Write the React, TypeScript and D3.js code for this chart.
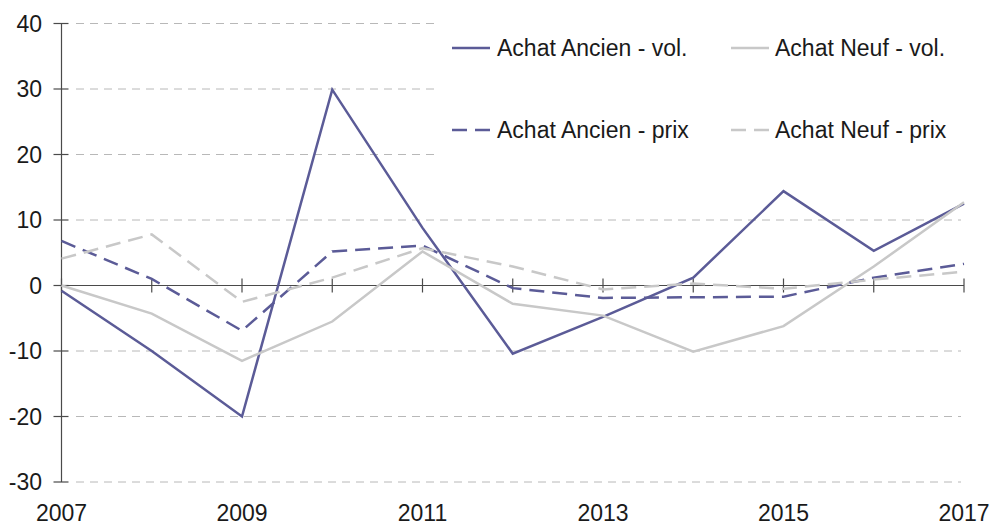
import { useEffect, useRef } from 'react';
import * as d3 from 'd3';

// values
const years = [2007, 2008, 2009, 2010, 2011, 2012, 2013, 2014, 2015, 2016, 2017];
const yearLabels = [2007, 2009, 2011, 2013, 2015, 2017];
const yTicks = [-30, -20, -10, 0, 10, 20, 30, 40];

const ancienVol = [-0.8, -10.0, -20.0, 29.9, 8.8, -10.4, -4.8, 1.2, 14.4, 5.3, 12.5];
const neufVol = [0, -4.3, -11.5, -5.5, 5.2, -2.8, -4.6, -10.1, -6.2, 2.9, 12.7];
const ancienPrix = [6.8, 1.0, -6.9, 5.2, 6.1, -0.4, -1.9, -1.8, -1.7, 1.2, 3.3];
const neufPrix = [4.1, 7.8, -2.5, 1.2, 5.7, 2.9, -0.6, 0.3, -0.5, 0.9, 2.1];

const seriesNames = ['Achat Ancien - vol.', 'Achat Neuf - vol.', 'Achat Ancien - prix', 'Achat Neuf - prix'];

const PURPLE = '#5b5b97';
const GREY = '#c8c8c8';
const FONT = '"Liberation Sans", Arial, sans-serif';

export default function App() {
  const svgRef = useRef<SVGSVGElement>(null);

  useEffect(() => {
    if (!svgRef.current) return;
    const svg = d3.select(svgRef.current);
    svg.selectAll('*').remove();

    const width = 991;
    const height = 527;
    svg.attr('width', width).attr('height', height);

    const x = d3.scaleLinear().domain([2007, 2017]).range([61.5, 964]);
    const y = d3.scaleLinear().domain([-30, 40]).range([482, 23.5]);

    // dashed horizontal grid
    svg.append('g')
      .selectAll('line')
      .data(yTicks.filter(t => t !== 0))
      .join('line')
      .attr('x1', 76)
      .attr('x2', 961)
      .attr('y1', d => y(d))
      .attr('y2', d => y(d))
      .attr('stroke', '#b8b8b8')
      .attr('stroke-width', 1)
      .attr('stroke-dasharray', '8,6');

    // y axis
    const axisColor = '#4a4a4a';
    svg.append('line')
      .attr('x1', x(2007)).attr('x2', x(2007))
      .attr('y1', y(40)).attr('y2', y(-30))
      .attr('stroke', axisColor).attr('stroke-width', 1.2);
    svg.append('g')
      .selectAll('line')
      .data(yTicks)
      .join('line')
      .attr('x1', x(2007) - 8).attr('x2', x(2007) + 7)
      .attr('y1', d => y(d)).attr('y2', d => y(d))
      .attr('stroke', axisColor).attr('stroke-width', 1.2);
    svg.append('g')
      .selectAll('text')
      .data(yTicks)
      .join('text')
      .attr('x', 42)
      .attr('y', d => y(d) + 8)
      .attr('text-anchor', 'end')
      .attr('font-family', FONT)
      .attr('font-size', 23)
      .attr('fill', '#1a1a1a')
      .text(d => d);

    // x axis along zero
    svg.append('line')
      .attr('x1', x(2007)).attr('x2', x(2017))
      .attr('y1', y(0)).attr('y2', y(0))
      .attr('stroke', axisColor).attr('stroke-width', 1.2);
    svg.append('g')
      .selectAll('line')
      .data(years)
      .join('line')
      .attr('x1', d => x(d)).attr('x2', d => x(d))
      .attr('y1', y(0) - 7).attr('y2', y(0) + 7)
      .attr('stroke', axisColor).attr('stroke-width', 1.2);
    svg.append('g')
      .selectAll('text')
      .data(yearLabels)
      .join('text')
      .attr('x', d => x(d))
      .attr('y', 521)
      .attr('text-anchor', 'middle')
      .attr('font-family', FONT)
      .attr('font-size', 23)
      .attr('fill', '#1a1a1a')
      .text(d => d);

    // legend box (white, hides grid behind)
    svg.append('rect')
      .attr('x', 436).attr('y', 10)
      .attr('width', 545).attr('height', 190)
      .attr('fill', 'white');

    const series = [
      { name: seriesNames[0], values: ancienVol, color: PURPLE, dash: null },
      { name: seriesNames[1], values: neufVol, color: GREY, dash: null },
      { name: seriesNames[2], values: ancienPrix, color: PURPLE, dash: '15,8' },
      { name: seriesNames[3], values: neufPrix, color: GREY, dash: '15,8' },
    ];

    const line = d3.line<number>()
      .x((_, i) => x(years[i]))
      .y(d => y(d));

    series.forEach(s => {
      svg.append('path')
        .attr('d', line(s.values))
        .attr('fill', 'none')
        .attr('stroke', s.color)
        .attr('stroke-width', 2.5)
        .attr('stroke-linejoin', 'miter')
        .attr('stroke-dasharray', s.dash);
    });

    // legend entries
    const legendPos = [
      { sx: 452, tx: 497, y: 48 },
      { sx: 731, tx: 775, y: 48 },
      { sx: 452, tx: 497, y: 130 },
      { sx: 731, tx: 775, y: 130 },
    ];
    series.forEach((s, i) => {
      const p = legendPos[i];
      svg.append('line')
        .attr('x1', p.sx).attr('x2', p.sx + 38)
        .attr('y1', p.y).attr('y2', p.y)
        .attr('stroke', s.color)
        .attr('stroke-width', 2.5)
        .attr('stroke-dasharray', s.dash);
      svg.append('text')
        .attr('x', p.tx)
        .attr('y', p.y + 8)
        .attr('font-family', FONT)
        .attr('font-size', 23)
        .attr('fill', '#1a1a1a')
        .text(s.name);
    });
  }, []);

  return (
    <div>
      <svg ref={svgRef} style={{ position: 'absolute', left: 0, top: 0 }}></svg>
    </div>
  );
}
